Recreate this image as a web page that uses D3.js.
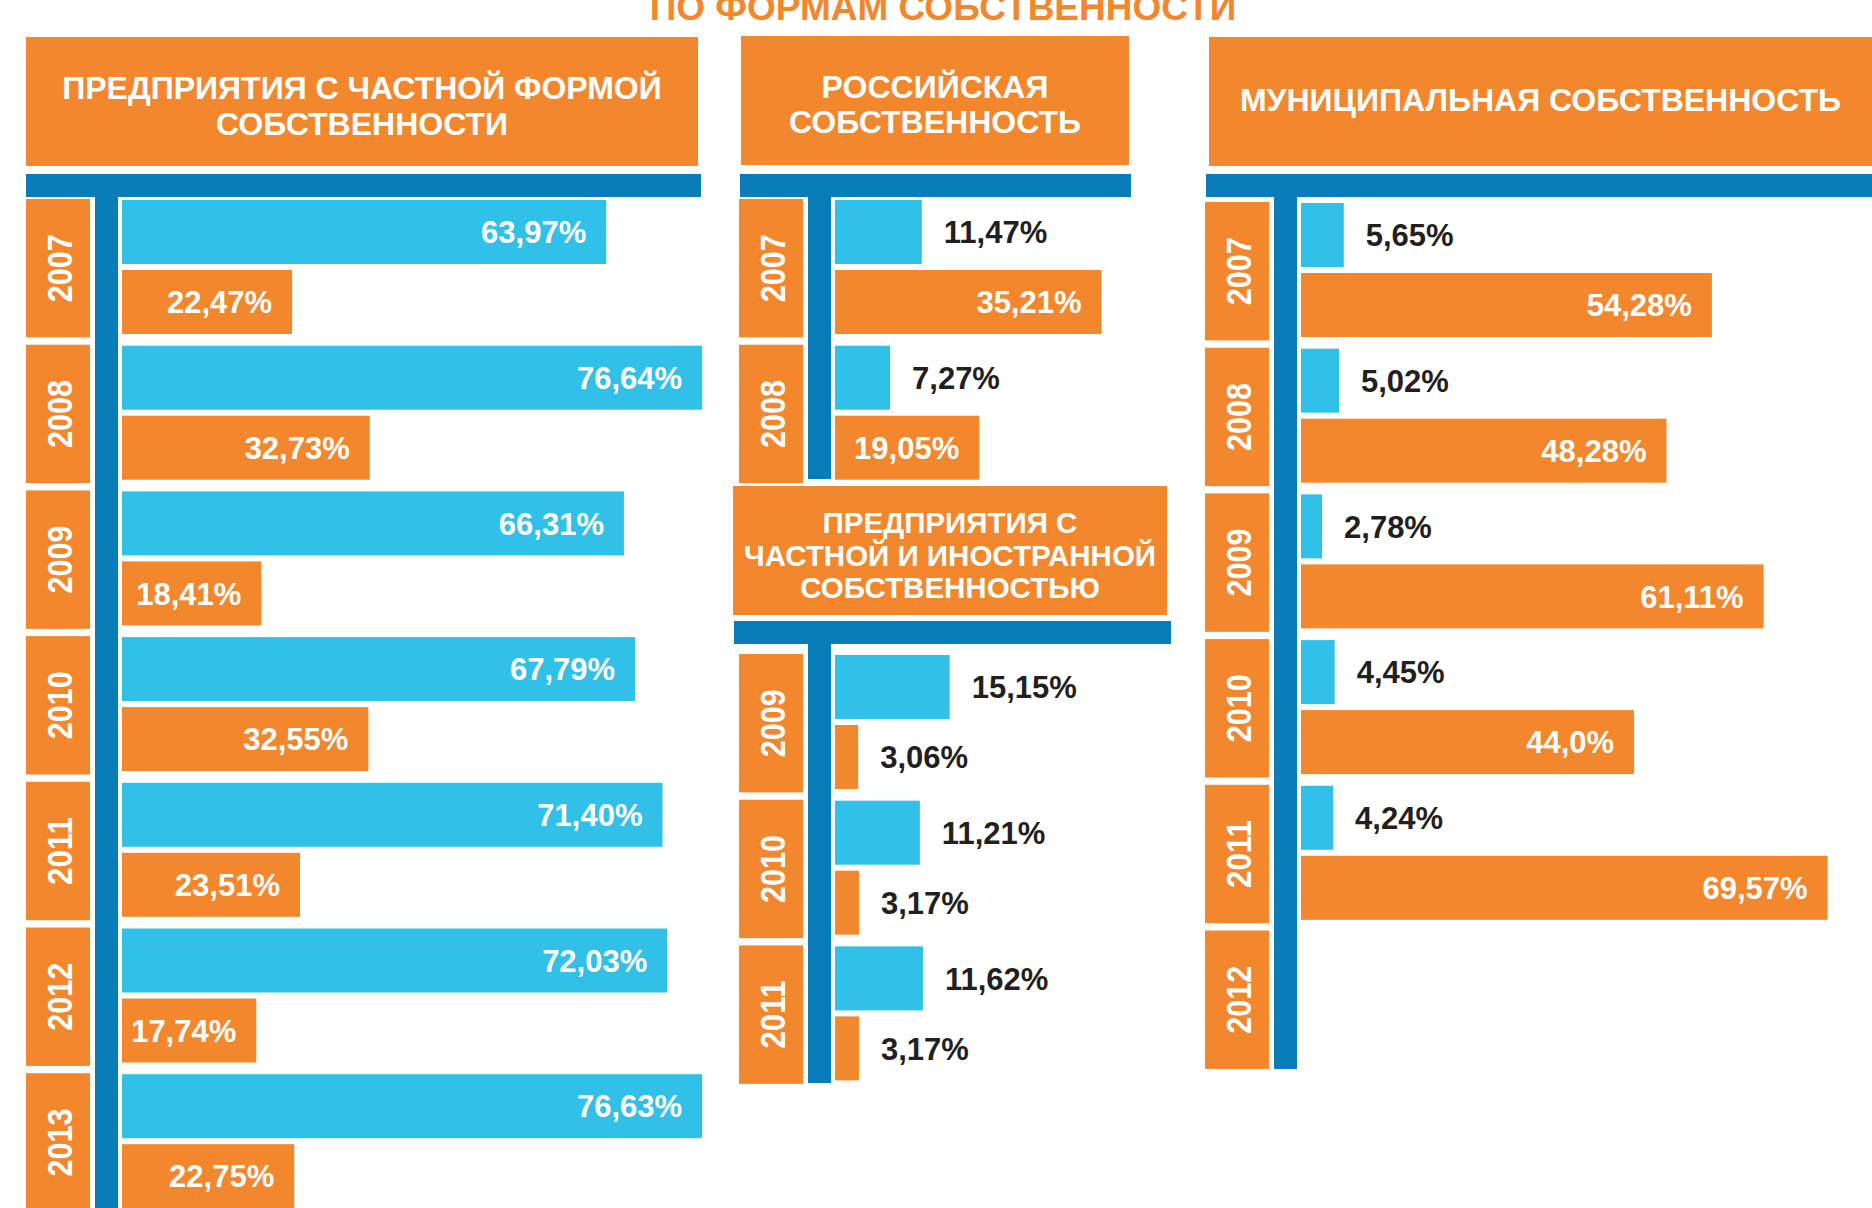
<!DOCTYPE html>
<html>
<head>
<meta charset="UTF-8">
<title>По формам собственности</title>
<style>
body, html {
	padding: 0;
	margin: 0;
	overflow: hidden;
	background: #ffffff;
}
text {
	font-family: "Liberation Sans", Arial, sans-serif;
	font-weight: bold;
}
</style>
</head>
<body>
<div id="chart"></div>
<script src="https://cdn.jsdelivr.net/npm/d3@7"></script>
<script>
var title = "ПО ФОРМАМ СОБСТВЕННОСТИ";

var privateYears = ["2007", "2008", "2009", "2010", "2011", "2012", "2013"];
var privateBlue = [63.97, 76.64, 66.31, 67.79, 71.40, 72.03, 76.63];
var privateOrange = [22.47, 32.73, 18.41, 32.55, 23.51, 17.74, 22.75];

var russianYears = ["2007", "2008"];
var russianBlue = [11.47, 7.27];
var russianOrange = [35.21, 19.05];

var municipalYears = ["2007", "2008", "2009", "2010", "2011", "2012"];
var municipalBlue = [5.65, 5.02, 2.78, 4.45, 4.24];
var municipalOrange = [54.28, 48.28, 61.11, 44.0, 69.57];

var foreignYears = ["2009", "2010", "2011"];
var foreignBlue = [15.15, 11.21, 11.62];
var foreignOrange = [3.06, 3.17, 3.17];

var orange = "#f3872d";
var blue = "#31c1e8";
var darkBlue = "#087db7";
var ink = "#231f20";

var width = 1872;
var height = 1208;
var pitch = 145.7;

var svg = d3.select("#chart").append("svg")
	.attr("width", width)
	.attr("height", height)
	.style("display", "block");

// the title is cut at the top edge in the original too
svg.append("text")
	.attr("x", 943)
	.attr("y", 20)
	.attr("text-anchor", "middle")
	.attr("fill", orange)
	.style("font-size", "37px")
	.text(title);

var x = d3.scaleLinear().domain([0, 100]).range([0, 757]);

var panels = [
	{lines: ["ПРЕДПРИЯТИЯ С ЧАСТНОЙ ФОРМОЙ", "СОБСТВЕННОСТИ"], years: privateYears, blue: privateBlue, orange: privateOrange,
		left: 26, head: [26, 37, 672, 129], base: 99, lineH: 36, fs: 32, bar: [26, 174, 675], rowTop: 199, stemEnd: 1210},
	{lines: ["РОССИЙСКАЯ", "СОБСТВЕННОСТЬ"], years: russianYears, blue: russianBlue, orange: russianOrange,
		left: 739, head: [741, 36, 388, 129], base: 98, lineH: 35, fs: 32, bar: [740, 174, 391], rowTop: 199, stemEnd: 479},
	{lines: ["МУНИЦИПАЛЬНАЯ СОБСТВЕННОСТЬ"], years: municipalYears, blue: municipalBlue, orange: municipalOrange,
		left: 1205, head: [1209, 37, 663, 129], base: 111, lineH: 36, fs: 32, bar: [1206, 174, 666], rowTop: 202, stemEnd: 1069},
	{lines: ["ПРЕДПРИЯТИЯ С", "ЧАСТНОЙ И ИНОСТРАННОЙ", "СОБСТВЕННОСТЬЮ"], years: foreignYears, blue: foreignBlue, orange: foreignOrange,
		left: 739, head: [733, 486, 434, 129], base: 533, lineH: 32.5, fs: 29.5, bar: [734, 621, 437], rowTop: 654, stemEnd: 1083}
];

function fmt(v) {
	return d3.format(".2f")(v).replace(/00$/, "0").replace(".", ",") + "%";
}

panels.forEach(drawPanel);

function drawPanel(p) {
	var g = svg.append("g");

	// header box
	g.append("rect")
		.attr("x", p.head[0]).attr("y", p.head[1])
		.attr("width", p.head[2]).attr("height", p.head[3])
		.attr("fill", orange);

	g.selectAll("text.head").data(p.lines).enter().append("text")
		.attr("class", "head")
		.attr("x", p.head[0] + p.head[2] / 2)
		.attr("y", function(d, i) {return p.base + i * p.lineH})
		.attr("text-anchor", "middle")
		.attr("fill", "#ffffff")
		.style("font-size", p.fs + "px")
		.text(function(d) {return d});

	// the T: horizontal bar and stem
	g.append("rect")
		.attr("x", p.bar[0]).attr("y", p.bar[1])
		.attr("width", p.bar[2]).attr("height", 23)
		.attr("fill", darkBlue);

	g.append("rect")
		.attr("x", p.left + 69).attr("y", p.bar[1] + 22)
		.attr("width", 23).attr("height", p.stemEnd - p.bar[1] - 22)
		.attr("fill", darkBlue);

	var y = d3.scaleBand()
		.domain(p.years)
		.range([p.rowTop, p.rowTop + pitch * (p.years.length - 0.05)])
		.paddingInner(0.05)
		.paddingOuter(0);

	// year boxes
	var yr = g.selectAll("g.year").data(p.years).enter().append("g").attr("class", "year");
	yr.append("rect")
		.attr("x", p.left)
		.attr("y", function(d) {return y(d)})
		.attr("width", 64)
		.attr("height", y.bandwidth())
		.attr("fill", orange);
	yr.append("text")
		.attr("transform", function(d) {return "translate(" + (p.left + 33) + "," + (y(d) + y.bandwidth() / 2) + ") rotate(-90)"})
		.attr("dy", "0.36em")
		.attr("text-anchor", "middle")
		.attr("fill", "#ffffff")
		.attr("textLength", 68)
		.attr("lengthAdjust", "spacingAndGlyphs")
		.style("font-size", "35px")
		.text(function(d) {return d});

	var x0 = p.left + 96;
	var rows = [];
	p.blue.forEach(function(v, i) {rows.push({year: p.years[i], v: v, c: blue, off: 1})});
	p.orange.forEach(function(v, i) {rows.push({year: p.years[i], v: v, c: orange, off: 71})});

	g.selectAll("rect.bar").data(rows).enter().append("rect")
		.attr("class", "bar")
		.attr("x", x0)
		.attr("y", function(d) {return y(d.year) + d.off})
		.attr("width", function(d) {return x(d.v)})
		.attr("height", 64)
		.attr("fill", function(d) {return d.c});

	g.selectAll("text.val").data(rows).enter().append("text")
		.attr("class", "val")
		.attr("x", function(d) {return d.v > 16 ? x0 + x(d.v) - 20 : x0 + x(d.v) + 22})
		.attr("y", function(d) {return y(d.year) + d.off + 32})
		.attr("dy", "0.36em")
		.attr("text-anchor", function(d) {return d.v > 16 ? "end" : "start"})
		.attr("fill", function(d) {return d.v > 16 ? "#ffffff" : ink})
		.style("font-size", "31px")
		.text(function(d) {return fmt(d.v)});
}
</script>
</body>
</html>
